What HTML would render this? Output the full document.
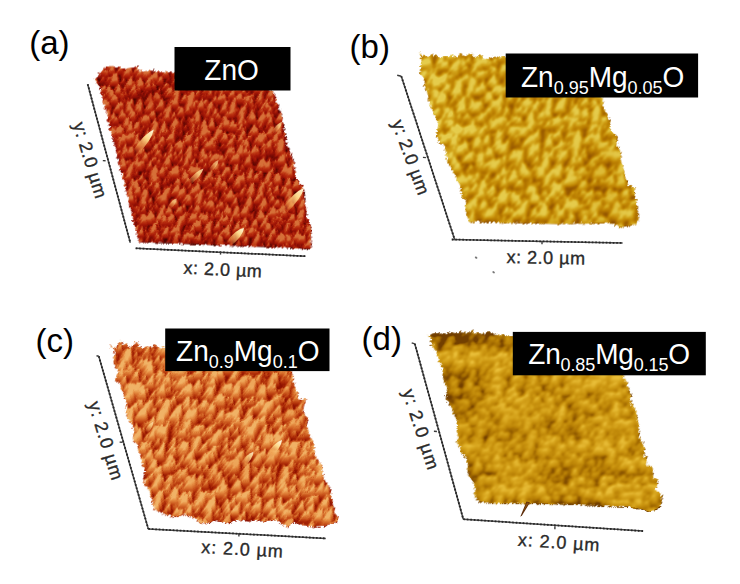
<!DOCTYPE html><html><head><meta charset="utf-8"><style>html,body{margin:0;padding:0;background:#fff;overflow:hidden;width:740px;height:584px;}svg{display:block;}</style></head><body>
<svg width="740" height="584" viewBox="0 0 740 584" font-family='"Liberation Sans", sans-serif'>
<rect width="740" height="584" fill="#fff"/>
<defs>
<filter id="fa" filterUnits="userSpaceOnUse" x="-300" y="-50" width="1400" height="700" color-interpolation-filters="sRGB"><feTurbulence type="fractalNoise" baseFrequency="0.2 0.15" numOctaves="4" seed="3" result="n"/><feColorMatrix in="n" type="matrix" values="2.3 0 0 0 -0.65  2.3 0 0 0 -0.65  2.3 0 0 0 -0.65  0 0 0 0 1" result="h0"/><feComponentTransfer in="h0" result="d0"><feFuncR type="linear" slope="1" intercept="-0.060"/><feFuncG type="linear" slope="1" intercept="-0.060"/><feFuncB type="linear" slope="1" intercept="-0.060"/></feComponentTransfer><feOffset in="d0" dy="1" result="o0"/><feBlend in="h0" in2="o0" mode="lighten" result="m0"/><feOffset in="d0" dx="0.50" dy="1" result="p0"/><feOffset in="d0" dx="-0.50" dy="1" result="q0"/><feBlend in="m0" in2="p0" mode="lighten" result="mp0"/><feBlend in="mp0" in2="q0" mode="lighten" result="mq0"/><feComponentTransfer in="mq0" result="d1"><feFuncR type="linear" slope="1" intercept="-0.120"/><feFuncG type="linear" slope="1" intercept="-0.120"/><feFuncB type="linear" slope="1" intercept="-0.120"/></feComponentTransfer><feOffset in="d1" dy="2" result="o1"/><feBlend in="mq0" in2="o1" mode="lighten" result="m1"/><feOffset in="d1" dx="1.00" dy="2" result="p1"/><feOffset in="d1" dx="-1.00" dy="2" result="q1"/><feBlend in="m1" in2="p1" mode="lighten" result="mp1"/><feBlend in="mp1" in2="q1" mode="lighten" result="mq1"/><feComponentTransfer in="mq1" result="d2"><feFuncR type="linear" slope="1" intercept="-0.240"/><feFuncG type="linear" slope="1" intercept="-0.240"/><feFuncB type="linear" slope="1" intercept="-0.240"/></feComponentTransfer><feOffset in="d2" dy="4" result="o2"/><feBlend in="mq1" in2="o2" mode="lighten" result="m2"/><feOffset in="d2" dx="2.00" dy="4" result="p2"/><feOffset in="d2" dx="-2.00" dy="4" result="q2"/><feBlend in="m2" in2="p2" mode="lighten" result="mp2"/><feBlend in="mp2" in2="q2" mode="lighten" result="mq2"/><feColorMatrix in="mq2" type="matrix" values="0 0 0 0 0  0 0 0 0 0  0 0 0 0 0  1 0 0 0 0" result="ha"/><feDiffuseLighting in="ha" surfaceScale="3" diffuseConstant="1" lighting-color="#fff" result="lt"><feDistantLight azimuth="210" elevation="45"/></feDiffuseLighting><feComposite in="mq2" in2="lt" operator="arithmetic" k1="0" k2="1" k3="0.35" k4="-0.21" result="hl"/><feComponentTransfer in="hl" result="hp"><feFuncR type="linear" slope="1.3" intercept="-0.2"/><feFuncG type="linear" slope="1.3" intercept="-0.2"/><feFuncB type="linear" slope="1.3" intercept="-0.2"/></feComponentTransfer><feGaussianBlur in="hp" stdDeviation="0.4" result="hb"/><feColorMatrix in="SourceGraphic" type="matrix" values="1 0 0 0 0  1 0 0 0 0  1 0 0 0 0  0 0 0 0 1" result="sg1"/><feComposite in="hb" in2="sg1" operator="arithmetic" k1="0" k2="1" k3="1.0" k4="-0.5" result="hm"/><feComponentTransfer in="hm" result="col"><feFuncR type="table" tableValues="0.30 0.42 0.55 0.655 0.745 0.84"/><feFuncG type="table" tableValues="0.02 0.035 0.055 0.10 0.21 0.44"/><feFuncB type="table" tableValues="0 0.01 0.02 0.03 0.07 0.22"/><feFuncA type="linear" slope="0" intercept="1"/></feComponentTransfer><feTurbulence type="turbulence" baseFrequency="0.25" numOctaves="2" seed="8" result="rn"/><feDisplacementMap in="SourceAlpha" in2="rn" scale="4" xChannelSelector="R" yChannelSelector="G" result="ra"/><feComposite in="col" in2="ra" operator="in"/></filter>
<filter id="fb" filterUnits="userSpaceOnUse" x="-300" y="-50" width="1400" height="700" color-interpolation-filters="sRGB"><feTurbulence type="fractalNoise" baseFrequency="0.14 0.12" numOctaves="4" seed="5" result="n"/><feColorMatrix in="n" type="matrix" values="2.3 0 0 0 -0.65  2.3 0 0 0 -0.65  2.3 0 0 0 -0.65  0 0 0 0 1" result="h0"/><feComponentTransfer in="h0" result="d0"><feFuncR type="linear" slope="1" intercept="-0.070"/><feFuncG type="linear" slope="1" intercept="-0.070"/><feFuncB type="linear" slope="1" intercept="-0.070"/></feComponentTransfer><feOffset in="d0" dy="1" result="o0"/><feBlend in="h0" in2="o0" mode="lighten" result="m0"/><feOffset in="d0" dx="0.60" dy="1" result="p0"/><feOffset in="d0" dx="-0.60" dy="1" result="q0"/><feBlend in="m0" in2="p0" mode="lighten" result="mp0"/><feBlend in="mp0" in2="q0" mode="lighten" result="mq0"/><feComponentTransfer in="mq0" result="d1"><feFuncR type="linear" slope="1" intercept="-0.140"/><feFuncG type="linear" slope="1" intercept="-0.140"/><feFuncB type="linear" slope="1" intercept="-0.140"/></feComponentTransfer><feOffset in="d1" dy="2" result="o1"/><feBlend in="mq0" in2="o1" mode="lighten" result="m1"/><feOffset in="d1" dx="1.20" dy="2" result="p1"/><feOffset in="d1" dx="-1.20" dy="2" result="q1"/><feBlend in="m1" in2="p1" mode="lighten" result="mp1"/><feBlend in="mp1" in2="q1" mode="lighten" result="mq1"/><feComponentTransfer in="mq1" result="d2"><feFuncR type="linear" slope="1" intercept="-0.210"/><feFuncG type="linear" slope="1" intercept="-0.210"/><feFuncB type="linear" slope="1" intercept="-0.210"/></feComponentTransfer><feOffset in="d2" dy="3" result="o2"/><feBlend in="mq1" in2="o2" mode="lighten" result="m2"/><feOffset in="d2" dx="1.80" dy="3" result="p2"/><feOffset in="d2" dx="-1.80" dy="3" result="q2"/><feBlend in="m2" in2="p2" mode="lighten" result="mp2"/><feBlend in="mp2" in2="q2" mode="lighten" result="mq2"/><feColorMatrix in="mq2" type="matrix" values="0 0 0 0 0  0 0 0 0 0  0 0 0 0 0  1 0 0 0 0" result="ha"/><feDiffuseLighting in="ha" surfaceScale="4" diffuseConstant="1" lighting-color="#fff" result="lt"><feDistantLight azimuth="210" elevation="45"/></feDiffuseLighting><feComposite in="mq2" in2="lt" operator="arithmetic" k1="0" k2="1" k3="0.4" k4="-0.24" result="hl"/><feComponentTransfer in="hl" result="hp"><feFuncR type="linear" slope="1.3" intercept="-0.15"/><feFuncG type="linear" slope="1.3" intercept="-0.15"/><feFuncB type="linear" slope="1.3" intercept="-0.15"/></feComponentTransfer><feGaussianBlur in="hp" stdDeviation="0.9" result="hb"/><feColorMatrix in="SourceGraphic" type="matrix" values="1 0 0 0 0  1 0 0 0 0  1 0 0 0 0  0 0 0 0 1" result="sg1"/><feComposite in="hb" in2="sg1" operator="arithmetic" k1="0" k2="1" k3="1.0" k4="-0.5" result="hm"/><feComponentTransfer in="hm" result="col"><feFuncR type="table" tableValues="0.575 0.645 0.715 0.775 0.835 0.9"/><feFuncG type="table" tableValues="0.33 0.40 0.475 0.555 0.665 0.8"/><feFuncB type="table" tableValues="0 0 0 0.035 0.125 0.3"/><feFuncA type="linear" slope="0" intercept="1"/></feComponentTransfer><feTurbulence type="turbulence" baseFrequency="0.25" numOctaves="2" seed="10" result="rn"/><feDisplacementMap in="SourceAlpha" in2="rn" scale="4" xChannelSelector="R" yChannelSelector="G" result="ra"/><feComposite in="col" in2="ra" operator="in"/></filter>
<filter id="fc" filterUnits="userSpaceOnUse" x="-300" y="-50" width="1400" height="700" color-interpolation-filters="sRGB"><feTurbulence type="fractalNoise" baseFrequency="0.15 0.12" numOctaves="4" seed="9" result="n"/><feColorMatrix in="n" type="matrix" values="2.3 0 0 0 -0.65  2.3 0 0 0 -0.65  2.3 0 0 0 -0.65  0 0 0 0 1" result="h0"/><feComponentTransfer in="h0" result="d0"><feFuncR type="linear" slope="1" intercept="-0.050"/><feFuncG type="linear" slope="1" intercept="-0.050"/><feFuncB type="linear" slope="1" intercept="-0.050"/></feComponentTransfer><feOffset in="d0" dy="1" result="o0"/><feBlend in="h0" in2="o0" mode="lighten" result="m0"/><feOffset in="d0" dx="0.45" dy="1" result="p0"/><feOffset in="d0" dx="-0.45" dy="1" result="q0"/><feBlend in="m0" in2="p0" mode="lighten" result="mp0"/><feBlend in="mp0" in2="q0" mode="lighten" result="mq0"/><feComponentTransfer in="mq0" result="d1"><feFuncR type="linear" slope="1" intercept="-0.100"/><feFuncG type="linear" slope="1" intercept="-0.100"/><feFuncB type="linear" slope="1" intercept="-0.100"/></feComponentTransfer><feOffset in="d1" dy="2" result="o1"/><feBlend in="mq0" in2="o1" mode="lighten" result="m1"/><feOffset in="d1" dx="0.90" dy="2" result="p1"/><feOffset in="d1" dx="-0.90" dy="2" result="q1"/><feBlend in="m1" in2="p1" mode="lighten" result="mp1"/><feBlend in="mp1" in2="q1" mode="lighten" result="mq1"/><feComponentTransfer in="mq1" result="d2"><feFuncR type="linear" slope="1" intercept="-0.200"/><feFuncG type="linear" slope="1" intercept="-0.200"/><feFuncB type="linear" slope="1" intercept="-0.200"/></feComponentTransfer><feOffset in="d2" dy="4" result="o2"/><feBlend in="mq1" in2="o2" mode="lighten" result="m2"/><feOffset in="d2" dx="1.80" dy="4" result="p2"/><feOffset in="d2" dx="-1.80" dy="4" result="q2"/><feBlend in="m2" in2="p2" mode="lighten" result="mp2"/><feBlend in="mp2" in2="q2" mode="lighten" result="mq2"/><feComponentTransfer in="mq2" result="d3"><feFuncR type="linear" slope="1" intercept="-0.300"/><feFuncG type="linear" slope="1" intercept="-0.300"/><feFuncB type="linear" slope="1" intercept="-0.300"/></feComponentTransfer><feOffset in="d3" dy="6" result="o3"/><feBlend in="mq2" in2="o3" mode="lighten" result="m3"/><feOffset in="d3" dx="2.70" dy="6" result="p3"/><feOffset in="d3" dx="-2.70" dy="6" result="q3"/><feBlend in="m3" in2="p3" mode="lighten" result="mp3"/><feBlend in="mp3" in2="q3" mode="lighten" result="mq3"/><feColorMatrix in="mq3" type="matrix" values="0 0 0 0 0  0 0 0 0 0  0 0 0 0 0  1 0 0 0 0" result="ha"/><feDiffuseLighting in="ha" surfaceScale="3" diffuseConstant="1" lighting-color="#fff" result="lt"><feDistantLight azimuth="210" elevation="45"/></feDiffuseLighting><feComposite in="mq3" in2="lt" operator="arithmetic" k1="0" k2="1" k3="0.3" k4="-0.18" result="hl"/><feComponentTransfer in="hl" result="hp"><feFuncR type="linear" slope="1.6" intercept="-0.5"/><feFuncG type="linear" slope="1.6" intercept="-0.5"/><feFuncB type="linear" slope="1.6" intercept="-0.5"/></feComponentTransfer><feColorMatrix in="SourceGraphic" type="matrix" values="1 0 0 0 0  1 0 0 0 0  1 0 0 0 0  0 0 0 0 1" result="sg1"/><feComposite in="hp" in2="sg1" operator="arithmetic" k1="0" k2="1" k3="1.0" k4="-0.5" result="hm"/><feComponentTransfer in="hm" result="col"><feFuncR type="table" tableValues="0.56 0.68 0.77 0.845 0.905 0.945"/><feFuncG type="table" tableValues="0.07 0.17 0.30 0.435 0.565 0.70"/><feFuncB type="table" tableValues="0 0.03 0.09 0.175 0.27 0.40"/><feFuncA type="linear" slope="0" intercept="1"/></feComponentTransfer><feTurbulence type="turbulence" baseFrequency="0.25" numOctaves="2" seed="14" result="rn"/><feDisplacementMap in="SourceAlpha" in2="rn" scale="4" xChannelSelector="R" yChannelSelector="G" result="ra"/><feComposite in="col" in2="ra" operator="in"/></filter>
<filter id="fd" filterUnits="userSpaceOnUse" x="-300" y="-50" width="1400" height="700" color-interpolation-filters="sRGB"><feTurbulence type="fractalNoise" baseFrequency="0.13 0.25" numOctaves="3" seed="13" result="n"/><feTurbulence type="fractalNoise" baseFrequency="0.012 0.06" numOctaves="2" seed="24" result="ln"/><feColorMatrix in="n" type="matrix" values="1 0 0 0 0  1 0 0 0 0  1 0 0 0 0  0 0 0 0 1" result="n1"/><feColorMatrix in="ln" type="matrix" values="1 0 0 0 0  1 0 0 0 0  1 0 0 0 0  0 0 0 0 1" result="ln1"/><feComposite in="n1" in2="ln1" operator="arithmetic" k1="0" k2="1" k3="0.6" k4="-0.3" result="nn"/><feColorMatrix in="nn" type="matrix" values="2.4 0 0 0 -0.85  2.4 0 0 0 -0.85  2.4 0 0 0 -0.85  0 0 0 0 1" result="h0"/><feComponentTransfer in="h0" result="d0"><feFuncR type="linear" slope="1" intercept="-0.080"/><feFuncG type="linear" slope="1" intercept="-0.080"/><feFuncB type="linear" slope="1" intercept="-0.080"/></feComponentTransfer><feOffset in="d0" dy="1" result="o0"/><feBlend in="h0" in2="o0" mode="lighten" result="m0"/><feOffset in="d0" dx="0.50" dy="1" result="p0"/><feOffset in="d0" dx="-0.50" dy="1" result="q0"/><feBlend in="m0" in2="p0" mode="lighten" result="mp0"/><feBlend in="mp0" in2="q0" mode="lighten" result="mq0"/><feComponentTransfer in="mq0" result="d1"><feFuncR type="linear" slope="1" intercept="-0.160"/><feFuncG type="linear" slope="1" intercept="-0.160"/><feFuncB type="linear" slope="1" intercept="-0.160"/></feComponentTransfer><feOffset in="d1" dy="2" result="o1"/><feBlend in="mq0" in2="o1" mode="lighten" result="m1"/><feOffset in="d1" dx="1.00" dy="2" result="p1"/><feOffset in="d1" dx="-1.00" dy="2" result="q1"/><feBlend in="m1" in2="p1" mode="lighten" result="mp1"/><feBlend in="mp1" in2="q1" mode="lighten" result="mq1"/><feComponentTransfer in="mq1" result="d2"><feFuncR type="linear" slope="1" intercept="-0.240"/><feFuncG type="linear" slope="1" intercept="-0.240"/><feFuncB type="linear" slope="1" intercept="-0.240"/></feComponentTransfer><feOffset in="d2" dy="3" result="o2"/><feBlend in="mq1" in2="o2" mode="lighten" result="m2"/><feOffset in="d2" dx="1.50" dy="3" result="p2"/><feOffset in="d2" dx="-1.50" dy="3" result="q2"/><feBlend in="m2" in2="p2" mode="lighten" result="mp2"/><feBlend in="mp2" in2="q2" mode="lighten" result="mq2"/><feColorMatrix in="mq2" type="matrix" values="0 0 0 0 0  0 0 0 0 0  0 0 0 0 0  1 0 0 0 0" result="ha"/><feDiffuseLighting in="ha" surfaceScale="3" diffuseConstant="1" lighting-color="#fff" result="lt"><feDistantLight azimuth="210" elevation="45"/></feDiffuseLighting><feComposite in="mq2" in2="lt" operator="arithmetic" k1="0" k2="1" k3="0.3" k4="-0.18" result="hl"/><feGaussianBlur in="hl" stdDeviation="0.8" result="hb"/><feColorMatrix in="SourceGraphic" type="matrix" values="1 0 0 0 0  1 0 0 0 0  1 0 0 0 0  0 0 0 0 1" result="sg1"/><feComposite in="hb" in2="sg1" operator="arithmetic" k1="0" k2="1" k3="1.0" k4="-0.5" result="hm"/><feComponentTransfer in="hm" result="col"><feFuncR type="table" tableValues="0.45 0.63 0.734 0.796 0.85 0.914"/><feFuncG type="table" tableValues="0.25 0.41 0.514 0.585 0.655 0.745"/><feFuncB type="table" tableValues="0 0.002 0.026 0.064 0.123 0.221"/><feFuncA type="linear" slope="0" intercept="1"/></feComponentTransfer><feTurbulence type="turbulence" baseFrequency="0.25" numOctaves="2" seed="18" result="rn"/><feDisplacementMap in="SourceAlpha" in2="rn" scale="4" xChannelSelector="R" yChannelSelector="G" result="ra"/><feComposite in="col" in2="ra" operator="in"/></filter>
<filter id="ob2" x="-100%" y="-100%" width="300%" height="300%"><feGaussianBlur stdDeviation="2"/></filter>
<filter id="ob4" x="-100%" y="-100%" width="300%" height="300%"><feGaussianBlur stdDeviation="4"/></filter>
<filter id="ob5" x="-100%" y="-100%" width="300%" height="300%"><feGaussianBlur stdDeviation="5"/></filter>
<filter id="ob6" x="-100%" y="-100%" width="300%" height="300%"><feGaussianBlur stdDeviation="6"/></filter>
<filter id="ob8" x="-100%" y="-100%" width="300%" height="300%"><feGaussianBlur stdDeviation="8"/></filter>
<filter id="sblur" x="-50%" y="-50%" width="200%" height="200%"><feGaussianBlur stdDeviation="0.5"/></filter>
</defs>
<clipPath id="cpa"><polygon points="93.5,79.3 105.0,65.3 112.3,65.1 114.8,66.8 119.6,66.5 124.5,67.7 129.4,66.8 133.0,66.5 134.8,65.3 136.7,65.5 137.9,70.2 141.5,69.6 145.2,70.2 148.8,69.6 153.7,69.6 156.1,70.8 161.0,70.2 165.9,71.4 175.0,71.6 272.0,89.0 272.6,91.0 280.8,112.4 283.6,128.8 287.0,145.3 293.8,163.0 296.6,180.0 302.7,188.0 306.2,214.0 310.3,225.0 310.3,248.5 288.0,247.0 138.0,241.0 99.0,86.0"/></clipPath>
<g transform="skewX(-12)"><g filter="url(#fa)"><polygon points="110.4,79.3 118.9,65.3 126.1,65.1 129.0,66.8 133.7,66.5 138.9,67.7 143.6,66.8 147.1,66.5 148.7,65.3 150.6,65.5 152.8,70.2 156.3,69.6 160.1,70.2 163.6,69.6 168.5,69.6 171.1,70.8 175.9,70.2 181.1,71.4 190.2,71.6 290.9,89.0 291.9,91.0 304.7,112.4 311.0,128.8 317.9,145.3 328.4,163.0 334.9,180.0 342.7,188.0 351.7,214.0 358.1,225.0 363.1,248.5 340.5,247.0 189.2,241.0 117.3,86.0" fill="#808080"/>
<g transform="skewX(12)" clip-path="url(#cpa)">
<ellipse cx="148" cy="95" rx="9" ry="8" transform="rotate(0 148 95)" fill="rgb(76,76,76)" filter="url(#ob4)"/>
<ellipse cx="220" cy="244" rx="90" ry="4" transform="rotate(3 220 244)" fill="rgb(76,76,76)" filter="url(#ob2)"/>
</g></g></g>
<linearGradient id="sga153" gradientUnits="userSpaceOnUse" x1="153.8" y1="129.6" x2="135" y2="153"><stop offset="0" stop-color="#fffbe8" stop-opacity="1"/><stop offset="0.35" stop-color="#ffe090" stop-opacity="0.95"/><stop offset="0.75" stop-color="#f0a050" stop-opacity="0.60"/><stop offset="1" stop-color="#e08040" stop-opacity="0"/></linearGradient>
<path d="M153.8,129.6 Q144.3,133.5 132.7,151.1 L137.3,154.9 Q152.1,139.8 153.8,129.6Z" fill="url(#sga153)" filter="url(#sblur)"/>
<linearGradient id="sga304" gradientUnits="userSpaceOnUse" x1="304" y1="188" x2="284" y2="211"><stop offset="0" stop-color="#fff8e0" stop-opacity="1"/><stop offset="0.35" stop-color="#ffe090" stop-opacity="0.95"/><stop offset="0.75" stop-color="#f0a050" stop-opacity="0.60"/><stop offset="1" stop-color="#e08040" stop-opacity="0"/></linearGradient>
<path d="M304.0,188.0 Q294.2,191.6 281.7,209.0 L286.3,213.0 Q301.8,198.2 304.0,188.0Z" fill="url(#sga304)" filter="url(#sblur)"/>
<linearGradient id="sga244" gradientUnits="userSpaceOnUse" x1="244" y1="228" x2="228.5" y2="244"><stop offset="0" stop-color="#fff8e0" stop-opacity="1"/><stop offset="0.35" stop-color="#ffe090" stop-opacity="0.95"/><stop offset="0.75" stop-color="#f0a050" stop-opacity="0.60"/><stop offset="1" stop-color="#e08040" stop-opacity="0"/></linearGradient>
<path d="M244.0,228.0 Q235.8,229.3 226.3,241.9 L230.7,246.1 Q242.9,236.3 244.0,228.0Z" fill="url(#sga244)" filter="url(#sblur)"/>
<linearGradient id="sga203" gradientUnits="userSpaceOnUse" x1="203.5" y1="168.5" x2="189" y2="183"><stop offset="0" stop-color="#ffe0b0" stop-opacity="0.85"/><stop offset="0.35" stop-color="#ffe090" stop-opacity="0.81"/><stop offset="0.75" stop-color="#f0a050" stop-opacity="0.51"/><stop offset="1" stop-color="#e08040" stop-opacity="0"/></linearGradient>
<path d="M203.5,168.5 Q196.7,170.4 187.5,181.5 L190.5,184.5 Q201.6,175.3 203.5,168.5Z" fill="url(#sga203)" filter="url(#sblur)"/>
<linearGradient id="sga282" gradientUnits="userSpaceOnUse" x1="282" y1="121.7" x2="273" y2="133"><stop offset="0" stop-color="#ffd8a0" stop-opacity="0.8"/><stop offset="0.35" stop-color="#ffe090" stop-opacity="0.76"/><stop offset="0.75" stop-color="#f0a050" stop-opacity="0.48"/><stop offset="1" stop-color="#e08040" stop-opacity="0"/></linearGradient>
<path d="M282.0,121.7 Q277.0,123.2 271.6,131.9 L274.4,134.1 Q281.6,127.0 282.0,121.7Z" fill="url(#sga282)" filter="url(#sblur)"/>
<linearGradient id="sga218" gradientUnits="userSpaceOnUse" x1="218.5" y1="160" x2="210" y2="171"><stop offset="0" stop-color="#ffd0a0" stop-opacity="0.7"/><stop offset="0.35" stop-color="#ffe090" stop-opacity="0.66"/><stop offset="0.75" stop-color="#f0a050" stop-opacity="0.42"/><stop offset="1" stop-color="#e08040" stop-opacity="0"/></linearGradient>
<path d="M218.5,160.0 Q213.6,161.5 208.6,169.9 L211.4,172.1 Q218.3,165.1 218.5,160.0Z" fill="url(#sga218)" filter="url(#sblur)"/>
<linearGradient id="sga176" gradientUnits="userSpaceOnUse" x1="176.8" y1="198.5" x2="169" y2="208"><stop offset="0" stop-color="#ffd0a0" stop-opacity="0.7"/><stop offset="0.35" stop-color="#ffe090" stop-opacity="0.66"/><stop offset="0.75" stop-color="#f0a050" stop-opacity="0.42"/><stop offset="1" stop-color="#e08040" stop-opacity="0"/></linearGradient>
<path d="M176.8,198.5 Q172.1,199.4 167.6,206.9 L170.4,209.1 Q176.8,203.3 176.8,198.5Z" fill="url(#sga176)" filter="url(#sblur)"/>
<line x1="87.7" y1="84.2" x2="130.3" y2="242.7" stroke="#484848" stroke-width="1.5"/><line x1="87.7" y1="84.2" x2="130.3" y2="242.7" stroke="#262626" stroke-width="1.8" stroke-dasharray="1.6 1.9"/>
<line x1="135.7" y1="248.3" x2="305.5" y2="256.2" stroke="#484848" stroke-width="1.5"/><line x1="135.7" y1="248.3" x2="305.5" y2="256.2" stroke="#262626" stroke-width="1.8" stroke-dasharray="1.6 1.9"/>
<line x1="105.6" y1="160.8" x2="102.8" y2="160.6" stroke="#3a3a3a" stroke-width="1.4"/>
<line x1="220.5" y1="251.6" x2="220.5" y2="254.6" stroke="#3a3a3a" stroke-width="1.4"/>
<text x="29.2" y="54" font-size="33" fill="#000">(a)</text>
<text x="90" y="160.3" font-size="18" letter-spacing="0.5" fill="#2a2a2a" stroke="#2a2a2a" stroke-width="0.35" text-anchor="middle" dominant-baseline="central" transform="rotate(73 90 160.3)">y: 2.0 µm</text>
<text x="223" y="269.6" font-size="18" letter-spacing="0.5" fill="#2a2a2a" stroke="#2a2a2a" stroke-width="0.35" text-anchor="middle" dominant-baseline="central" transform="rotate(2.8 223 269.6)">x: 2.0 µm</text>
<clipPath id="cpb"><polygon points="419.1,51.0 421.6,56.1 424.8,54.2 427.3,56.1 430.5,53.5 433.0,55.4 436.2,54.2 438.8,56.7 443.2,55.4 447.7,56.1 451.5,53.5 454.7,56.1 459.7,52.9 462.9,55.4 469.9,51.6 473.7,56.1 477.5,54.8 480.0,53.5 483.9,58.0 490.2,56.7 495.3,55.4 500.4,56.7 507.0,56.5 600.0,95.0 602.2,98.0 602.8,105.8 606.4,113.0 609.4,119.0 610.0,129.7 616.0,135.7 616.6,145.3 619.6,150.1 620.7,162.1 623.0,168.4 624.8,175.6 627.2,184.0 634.3,186.9 633.7,192.3 635.5,199.5 636.7,210.3 637.9,218.7 636.1,223.5 629.0,224.7 618.2,226.5 612.2,222.9 605.0,222.3 560.0,223.0 468.7,221.1 464.6,211.5 465.1,199.5 461.0,196.0 459.2,184.0 455.0,178.0 452.0,168.4 447.6,162.6 445.6,156.4 444.6,149.2 443.5,144.1 437.4,141.0 436.3,131.7 437.4,124.5 435.3,117.3 432.0,109.0 430.0,105.0 427.9,99.4 427.4,94.2 426.4,89.1 424.3,87.1 423.3,79.9 421.8,76.8 419.2,70.6 419.7,63.4 419.7,57.2"/></clipPath>
<g transform="skewX(-10)"><g filter="url(#fb)"><polygon points="428.1,51.0 431.5,56.1 434.4,54.2 437.2,56.1 439.9,53.5 442.8,55.4 445.8,54.2 448.8,56.7 453.0,55.4 457.6,56.1 460.9,53.5 464.6,56.1 469.0,52.9 472.7,55.4 479.0,51.6 483.6,56.1 487.2,54.8 489.4,53.5 494.1,58.0 500.2,56.7 505.1,55.4 510.4,56.7 517.0,56.5 616.8,95.0 619.5,98.0 621.5,105.8 626.3,113.0 630.4,119.0 632.9,129.7 639.9,135.7 642.2,145.3 646.1,150.1 649.3,162.1 652.7,168.4 655.8,175.6 659.6,184.0 667.3,186.9 667.6,192.3 670.7,199.5 673.8,210.3 676.5,218.7 675.5,223.5 668.6,224.7 658.1,226.5 651.5,222.9 644.2,222.3 599.3,223.0 507.7,221.1 501.9,211.5 500.3,199.5 495.6,196.0 491.6,184.0 486.4,178.0 481.7,168.4 476.3,162.6 473.2,156.4 470.9,149.2 468.9,144.1 462.3,141.0 459.5,131.7 459.4,124.5 456.0,117.3 451.2,109.0 448.5,105.0 445.4,99.4 444.0,94.2 442.1,89.1 439.7,87.1 437.4,79.9 435.3,76.8 431.6,70.6 430.9,63.4 429.8,57.2" fill="#808080"/>
<g transform="skewX(10)" clip-path="url(#cpb)">
<ellipse cx="440" cy="110" rx="18" ry="50" transform="rotate(-15 440 110)" fill="rgb(158,158,158)" filter="url(#ob8)"/>
<ellipse cx="600" cy="180" rx="20" ry="40" transform="rotate(-15 600 180)" fill="rgb(102,102,102)" filter="url(#ob8)"/>
<ellipse cx="550" cy="222" rx="90" ry="4" transform="rotate(1 550 222)" fill="rgb(76,76,76)" filter="url(#ob2)"/>
</g></g></g>
<ellipse cx="476.1" cy="257.6" rx="1.4" ry="1.0" transform="rotate(35 476.1 257.6)" fill="#555" opacity="0.8"/>
<ellipse cx="493.6" cy="272.2" rx="1.4" ry="1.0" transform="rotate(35 493.6 272.2)" fill="#555" opacity="0.8"/>
<line x1="401.3" y1="76.3" x2="454.8" y2="239.9" stroke="#484848" stroke-width="1.5"/><line x1="401.3" y1="76.3" x2="454.8" y2="239.9" stroke="#262626" stroke-width="1.8" stroke-dasharray="1.6 1.9"/>
<line x1="451.8" y1="239.5" x2="622.6" y2="243" stroke="#484848" stroke-width="1.5"/><line x1="451.8" y1="239.5" x2="622.6" y2="243" stroke="#262626" stroke-width="1.8" stroke-dasharray="1.6 1.9"/>
<line x1="425.9" y1="157.6" x2="422.9" y2="157.4" stroke="#3a3a3a" stroke-width="1.4"/>
<line x1="397.2" y1="75.3" x2="401.3" y2="76.3" stroke="#3a3a3a" stroke-width="1.4"/>
<line x1="542" y1="241.3" x2="542" y2="244.3" stroke="#3a3a3a" stroke-width="1.4"/>
<text x="349.6" y="58" font-size="33" fill="#000">(b)</text>
<text x="410.7" y="157.5" font-size="18" letter-spacing="0.5" fill="#2a2a2a" stroke="#2a2a2a" stroke-width="0.35" text-anchor="middle" dominant-baseline="central" transform="rotate(70 410.7 157.5)">y: 2.0 µm</text>
<text x="546.1" y="257.8" font-size="18" letter-spacing="0.5" fill="#2a2a2a" stroke="#2a2a2a" stroke-width="0.35" text-anchor="middle" dominant-baseline="central" transform="rotate(1.1 546.1 257.8)">x: 2.0 µm</text>
<clipPath id="cpc"><polygon points="109.0,344.2 115.1,346.6 120.3,339.9 122.5,345.0 125.0,342.3 128.4,346.6 136.0,340.9 140.7,348.0 144.5,346.0 149.2,345.1 152.0,347.0 154.9,344.2 158.5,347.5 162.4,346.1 166.0,347.5 288.0,368.0 291.4,372.2 292.6,377.6 293.8,384.8 296.8,392.0 297.4,399.1 305.7,396.7 302.8,406.3 302.8,413.5 307.5,417.1 306.3,424.3 308.7,433.9 313.5,441.8 314.3,453.2 320.8,464.6 323.2,477.6 328.9,487.4 330.6,493.9 333.0,505.3 336.3,516.7 337.1,520.8 330.6,523.2 324.5,525.5 314.0,526.4 303.4,524.6 292.9,521.1 287.6,526.4 275.3,519.3 264.8,521.1 257.7,519.3 248.9,520.2 240.1,519.3 233.1,520.2 226.1,522.8 215.5,519.3 208.5,522.8 199.9,521.9 195.5,517.6 183.6,513.2 173.9,516.5 164.2,513.2 154.5,509.0 153.4,506.8 151.2,498.1 148.0,490.5 143.6,481.9 144.2,470.0 141.5,462.0 140.7,457.6 137.1,451.4 136.6,443.2 132.0,439.0 133.0,428.8 131.4,423.6 128.4,419.5 125.3,410.8 125.7,400.0 123.6,394.5 120.6,388.3 119.5,383.2 113.9,379.1 117.5,370.8 115.4,365.7 112.8,361.6 113.9,353.4 113.4,348.2"/></clipPath>
<g transform="skewX(-16)"><g filter="url(#fc)"><polygon points="207.7,344.2 214.5,346.6 217.8,339.9 221.4,345.0 223.2,342.3 227.8,346.6 233.8,340.9 240.5,348.0 243.7,346.0 248.2,345.1 251.5,347.0 253.6,344.2 258.1,347.5 261.6,346.1 265.6,347.5 393.5,368.0 398.1,372.2 400.9,377.6 404.1,384.8 409.2,392.0 411.8,399.1 419.5,396.7 419.3,406.3 421.4,413.5 427.1,417.1 428.0,424.3 433.1,433.9 440.2,441.8 444.3,453.2 454.0,464.6 460.1,477.6 468.7,487.4 472.2,493.9 477.9,505.3 484.5,516.7 486.4,520.8 480.6,523.2 475.2,525.5 464.9,526.4 453.8,524.6 442.3,521.1 438.5,526.4 424.2,519.3 414.2,521.1 406.6,519.3 398.1,520.2 389.0,519.3 382.3,520.2 376.0,522.8 364.4,519.3 358.4,522.8 349.6,521.9 343.9,517.6 330.8,513.2 322.0,516.5 311.4,513.2 300.5,509.0 298.7,506.8 294.0,498.1 288.6,490.5 281.8,481.9 279.0,470.0 274.0,462.0 271.9,457.6 266.5,451.4 263.7,443.2 257.9,439.0 256.0,428.8 252.9,423.6 248.7,419.5 243.1,410.8 240.4,400.0 236.7,394.5 231.9,388.3 229.4,383.2 222.6,379.1 223.8,370.8 220.3,365.7 216.5,361.6 215.2,353.4 213.2,348.2" fill="#808080"/>
<g transform="skewX(16)" clip-path="url(#cpc)">
<ellipse cx="240" cy="518" rx="90" ry="4" transform="rotate(3 240 518)" fill="rgb(89,89,89)" filter="url(#ob2)"/>
<ellipse cx="150" cy="390" rx="35" ry="45" transform="rotate(-20 150 390)" fill="rgb(148,148,148)" filter="url(#ob8)"/>
<ellipse cx="230" cy="470" rx="70" ry="10" transform="rotate(-8 230 470)" fill="rgb(97,97,97)" filter="url(#ob8)"/>
<ellipse cx="295" cy="405" rx="12" ry="25" transform="rotate(-20 295 405)" fill="rgb(97,97,97)" filter="url(#ob6)"/>
<ellipse cx="185" cy="497" rx="25" ry="9" transform="rotate(0 185 497)" fill="rgb(153,153,153)" filter="url(#ob6)"/>
<ellipse cx="260" cy="380" rx="30" ry="10" transform="rotate(0 260 380)" fill="rgb(107,107,107)" filter="url(#ob6)"/>
</g></g></g>
<linearGradient id="sgc282" gradientUnits="userSpaceOnUse" x1="282" y1="440.1" x2="268" y2="457"><stop offset="0" stop-color="#fffaf0" stop-opacity="1"/><stop offset="0.35" stop-color="#ffe090" stop-opacity="0.95"/><stop offset="0.75" stop-color="#f0a050" stop-opacity="0.60"/><stop offset="1" stop-color="#e08040" stop-opacity="0"/></linearGradient>
<path d="M282.0,440.1 Q274.3,442.3 265.9,455.3 L270.1,458.7 Q281.3,448.0 282.0,440.1Z" fill="url(#sgc282)" filter="url(#sblur)"/>
<linearGradient id="sgc253" gradientUnits="userSpaceOnUse" x1="253.5" y1="451.8" x2="242" y2="466"><stop offset="0" stop-color="#fff0d8" stop-opacity="0.9"/><stop offset="0.35" stop-color="#ffe090" stop-opacity="0.85"/><stop offset="0.75" stop-color="#f0a050" stop-opacity="0.54"/><stop offset="1" stop-color="#e08040" stop-opacity="0"/></linearGradient>
<path d="M253.5,451.8 Q246.9,453.5 240.1,464.5 L243.9,467.5 Q253.2,458.6 253.5,451.8Z" fill="url(#sgc253)" filter="url(#sblur)"/>
<linearGradient id="sgc153" gradientUnits="userSpaceOnUse" x1="153.4" y1="421.8" x2="146" y2="432"><stop offset="0" stop-color="#ffe8c0" stop-opacity="0.8"/><stop offset="0.35" stop-color="#ffe090" stop-opacity="0.76"/><stop offset="0.75" stop-color="#f0a050" stop-opacity="0.48"/><stop offset="1" stop-color="#e08040" stop-opacity="0"/></linearGradient>
<path d="M153.4,421.8 Q148.8,423.1 144.5,430.9 L147.5,433.1 Q153.6,426.6 153.4,421.8Z" fill="url(#sgc153)" filter="url(#sblur)"/>
<line x1="98.8" y1="356.3" x2="148.3" y2="528.9" stroke="#484848" stroke-width="1.5"/><line x1="98.8" y1="356.3" x2="148.3" y2="528.9" stroke="#262626" stroke-width="1.8" stroke-dasharray="1.6 1.9"/>
<line x1="148.3" y1="528.9" x2="325.8" y2="538.4" stroke="#484848" stroke-width="1.5"/><line x1="148.3" y1="528.9" x2="325.8" y2="538.4" stroke="#262626" stroke-width="1.8" stroke-dasharray="1.6 1.9"/>
<line x1="122.6" y1="442.3" x2="119.6" y2="442.1" stroke="#3a3a3a" stroke-width="1.4"/>
<line x1="96.5" y1="355.8" x2="98.8" y2="356.3" stroke="#3a3a3a" stroke-width="1.4"/>
<line x1="238.9" y1="533.4" x2="238.9" y2="536.6" stroke="#3a3a3a" stroke-width="1.4"/>
<text x="35.6" y="352" font-size="33" fill="#000">(c)</text>
<text x="105.8" y="441" font-size="18" letter-spacing="0.85" fill="#2a2a2a" stroke="#2a2a2a" stroke-width="0.35" text-anchor="middle" dominant-baseline="central" transform="rotate(73 105.8 441)">y: 2.0 µm</text>
<text x="242.6" y="549.3" font-size="18" letter-spacing="0.9" fill="#2a2a2a" stroke="#2a2a2a" stroke-width="0.35" text-anchor="middle" dominant-baseline="central" transform="rotate(3.1 242.6 549.3)">x: 2.0 µm</text>
<clipPath id="cpd"><polygon points="424.8,332.1 427.5,335.5 431.5,332.8 438.3,332.1 445.0,332.8 451.8,330.8 458.5,331.5 465.3,332.1 470.7,330.1 474.8,332.8 477.5,331.5 481.5,333.5 488.3,330.8 493.7,332.8 499.1,333.5 505.8,334.8 514.0,334.8 622.0,372.0 623.4,376.2 627.0,382.8 627.6,387.6 630.0,393.6 630.6,403.1 636.0,410.3 636.6,417.5 639.0,427.1 638.2,436.4 642.3,441.8 644.4,447.3 643.7,455.5 646.4,456.9 645.1,463.8 651.9,465.1 652.6,476.1 658.1,478.8 654.7,489.8 661.5,492.5 660.8,504.9 657.4,507.6 649.2,511.0 643.7,509.0 630.0,506.2 528.0,502.6 490.0,502.5 485.9,501.3 477.5,501.3 475.1,497.7 474.0,495.3 474.0,484.5 471.6,479.7 466.8,473.7 466.8,463.0 464.4,454.6 459.6,451.0 459.6,446.2 456.0,440.1 457.2,435.3 456.0,430.5 456.0,418.5 452.4,412.5 450.0,404.2 446.4,399.4 444.6,394.6 446.7,387.6 444.6,382.4 442.6,378.3 441.5,371.1 441.0,363.9 438.4,360.8 437.4,355.7 435.4,350.6 431.2,344.4 430.2,337.2 428.2,336.2"/></clipPath>
<g transform="skewX(-15)"><g filter="url(#fd)"><polygon points="513.8,332.1 517.4,335.5 520.7,332.8 527.3,332.1 534.2,332.8 540.4,330.8 547.3,331.5 554.3,332.1 559.2,330.1 564.0,332.8 566.3,331.5 570.9,333.5 576.9,330.8 582.9,332.8 588.5,333.5 595.5,334.8 603.7,334.8 721.7,372.0 724.2,376.2 729.6,382.8 731.5,387.6 735.5,393.6 738.6,403.1 745.9,410.3 748.5,417.5 753.4,427.1 755.1,436.4 760.7,441.8 764.3,447.3 765.8,455.5 768.8,456.9 769.4,463.8 776.5,465.1 780.2,476.1 786.4,478.8 785.9,489.8 793.5,492.5 796.1,504.9 793.4,507.6 786.1,511.0 780.1,509.0 765.6,506.2 662.7,502.6 624.6,502.5 620.2,501.3 611.8,501.3 608.5,497.7 606.7,495.3 603.8,484.5 600.1,479.7 593.7,473.7 590.9,463.0 586.2,454.6 580.4,451.0 579.2,446.2 573.9,440.1 573.8,435.3 571.4,430.5 568.1,418.5 562.9,412.5 558.3,404.2 553.4,399.4 550.3,394.6 550.6,387.6 547.1,382.4 544.0,378.3 540.9,371.1 538.5,363.9 535.1,360.8 532.7,355.7 529.3,350.6 523.5,344.4 520.6,337.2 518.3,336.2" fill="#808080"/>
<g transform="skewX(15)" clip-path="url(#cpd)">
<ellipse cx="468" cy="336" rx="48" ry="10" transform="rotate(1 468 336)" fill="rgb(20,20,20)" filter="url(#ob4)"/>
<ellipse cx="512" cy="440" rx="30" ry="10" transform="rotate(8 512 440)" fill="rgb(71,71,71)" filter="url(#ob5)"/>
<ellipse cx="500" cy="420" rx="55" ry="12" transform="rotate(3 500 420)" fill="rgb(92,92,92)" filter="url(#ob6)"/>
<ellipse cx="470" cy="395" rx="22" ry="14" transform="rotate(0 470 395)" fill="rgb(97,97,97)" filter="url(#ob6)"/>
<ellipse cx="560" cy="505" rx="90" ry="4" transform="rotate(2 560 505)" fill="rgb(76,76,76)" filter="url(#ob2)"/>
<ellipse cx="510" cy="362" rx="60" ry="9" transform="rotate(3 510 362)" fill="rgb(168,168,168)" filter="url(#ob5)"/>
<ellipse cx="600" cy="470" rx="40" ry="20" transform="rotate(0 600 470)" fill="rgb(148,148,148)" filter="url(#ob8)"/>
</g></g></g>
<path d="M526.5,501.5 L530,502.5 L522,515.5 L520.3,516.8 Z" fill="#5a2a08"/>
<path d="M527,502.5 L529,503 L523,512 Z" fill="#8a5010"/>
<line x1="414.8" y1="343.8" x2="463.3" y2="519.2" stroke="#484848" stroke-width="1.5"/><line x1="414.8" y1="343.8" x2="463.3" y2="519.2" stroke="#262626" stroke-width="1.8" stroke-dasharray="1.6 1.9"/>
<line x1="463.3" y1="519.2" x2="643.2" y2="531.1" stroke="#484848" stroke-width="1.5"/><line x1="463.3" y1="519.2" x2="643.2" y2="531.1" stroke="#262626" stroke-width="1.8" stroke-dasharray="1.6 1.9"/>
<line x1="436.9" y1="431.5" x2="433.9" y2="431.3" stroke="#3a3a3a" stroke-width="1.4"/>
<line x1="411.7" y1="342.8" x2="414.8" y2="343.8" stroke="#3a3a3a" stroke-width="1.4"/>
<line x1="554.9" y1="526.2" x2="554.9" y2="529.3" stroke="#3a3a3a" stroke-width="1.4"/>
<text x="361.6" y="349.5" font-size="33" fill="#000">(d)</text>
<text x="420.9" y="429.8" font-size="18" letter-spacing="1.1" fill="#2a2a2a" stroke="#2a2a2a" stroke-width="0.35" text-anchor="middle" dominant-baseline="central" transform="rotate(72 420.9 429.8)">y: 2.0 µm</text>
<text x="559.2" y="542.5" font-size="18" letter-spacing="0.9" fill="#2a2a2a" stroke="#2a2a2a" stroke-width="0.35" text-anchor="middle" dominant-baseline="central" transform="rotate(3.9 559.2 542.5)">x: 2.0 µm</text>
<rect x="174.5" y="47" width="116" height="43.5" fill="#000"/>
<text x="0" y="0" transform="translate(204.3 79.8) scale(1 1.05)" letter-spacing="0" font-size="28" fill="#fff"><tspan dy="0">ZnO</tspan></text>
<rect x="505.7" y="53.5" width="192.4" height="44" fill="#000"/>
<text x="0" y="0" transform="translate(521 86.6) scale(1 1.05)" letter-spacing="0" font-size="28" fill="#fff"><tspan dy="0">Zn</tspan><tspan font-size="18" dy="7">0.95</tspan><tspan dy="-7">Mg</tspan><tspan font-size="18" dy="7">0.05</tspan><tspan dy="-7">O</tspan></text>
<rect x="165.2" y="328.5" width="164.3" height="42.6" fill="#000"/>
<text x="0" y="0" transform="translate(176.1 360.5) scale(1 1.05)" letter-spacing="0" font-size="28" fill="#fff"><tspan dy="0">Zn</tspan><tspan font-size="18" dy="7">0.9</tspan><tspan dy="-7">Mg</tspan><tspan font-size="18" dy="7">0.1</tspan><tspan dy="-7">O</tspan></text>
<rect x="512.8" y="331.9" width="193" height="43.4" fill="#000"/>
<text x="0" y="0" transform="translate(528.2 363.8) scale(1 1.05)" letter-spacing="-0.12" font-size="28" fill="#fff"><tspan dy="0">Zn</tspan><tspan font-size="18" dy="7">0.85</tspan><tspan dy="-7">Mg</tspan><tspan font-size="18" dy="7">0.15</tspan><tspan dy="-7">O</tspan></text>
</svg></body></html>
